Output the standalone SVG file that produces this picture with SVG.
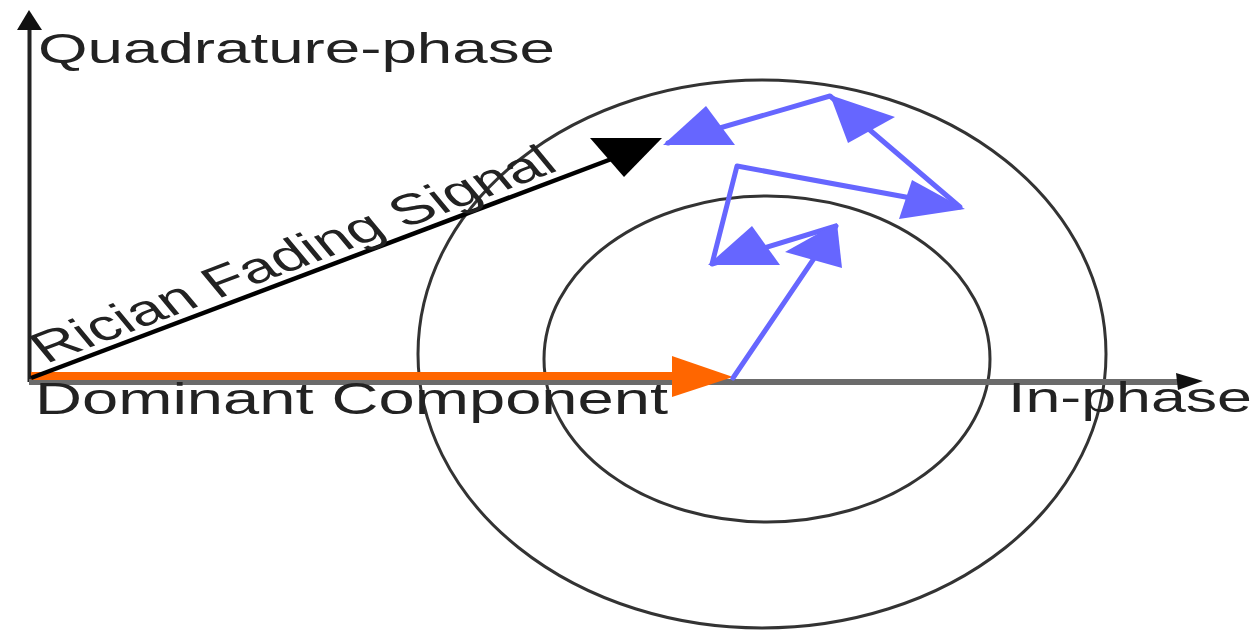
<svg xmlns="http://www.w3.org/2000/svg" width="1257" height="630" viewBox="0 0 1257 630">
<style>
.lbl{font-family:"Liberation Sans",Arial,sans-serif;fill:#222;}
.ring{fill:none;stroke:#333;stroke-width:3;}
.blue{fill:none;stroke:#6666ff;stroke-width:5;stroke-linejoin:round;stroke-linecap:round;}
.bh{fill:#6666ff;}
</style>
<rect width="1257" height="630" fill="#fff"/>
<g id="circles">
<ellipse id="outer-circle" class="ring" cx="762" cy="354" rx="344" ry="274"/>
<ellipse id="inner-circle" class="ring" cx="767" cy="359" rx="223" ry="163"/>
</g>
<g id="axes">
<line x1="29.5" y1="30" x2="29.5" y2="382" stroke="#222" stroke-width="4"/>
<polygon points="29,10 17,30 42,30" fill="#111"/>
<line x1="29" y1="382" x2="1180" y2="382" stroke="#6b6b6b" stroke-width="6"/>
<polygon points="1176,373 1203,381 1178,390" fill="#111"/>
</g>
<g id="connectors">
<g id="dominant-component">
<line x1="31" y1="376" x2="680" y2="376" stroke="#ff6600" stroke-width="8"/>
<polygon points="672,356 733,377 672,397" fill="#ff6600"/>
</g>
<g id="rician-signal">
<line x1="31" y1="378" x2="630" y2="152" stroke="#000" stroke-width="4.5"/>
<polygon points="590,138 662,138 624,177" fill="#000"/>
</g>
<g id="scattered">
<polyline class="blue" points="733,378 836,226 712,264 737,166 960,207 830,96 668,143"/>
<polygon class="bh" points="785,252 837,223 842,268"/>
<polygon class="bh" points="708,265 752,226 780,265"/>
<polygon class="bh" points="899,219 912,180 965,209"/>
<polygon class="bh" points="830,95 895,117 848,143"/>
<polygon class="bh" points="663,145 706,106 735,145"/>
</g>
</g>
<g id="labels">
<text class="lbl" x="38" y="63" font-size="43" textLength="517" lengthAdjust="spacingAndGlyphs">Quadrature-phase</text>
<text class="lbl" x="35" y="414" font-size="44" textLength="633" lengthAdjust="spacingAndGlyphs">Dominant Component</text>
<text class="lbl" x="1008" y="412" font-size="42" fill="#333" textLength="244" lengthAdjust="spacingAndGlyphs">In-phase</text>
<text class="lbl" transform="translate(46,364) scale(1.48,1) rotate(-29.2)" x="0" y="0" font-size="43" textLength="398" lengthAdjust="spacingAndGlyphs">Rician Fading Signal</text>
</g>
</svg>
